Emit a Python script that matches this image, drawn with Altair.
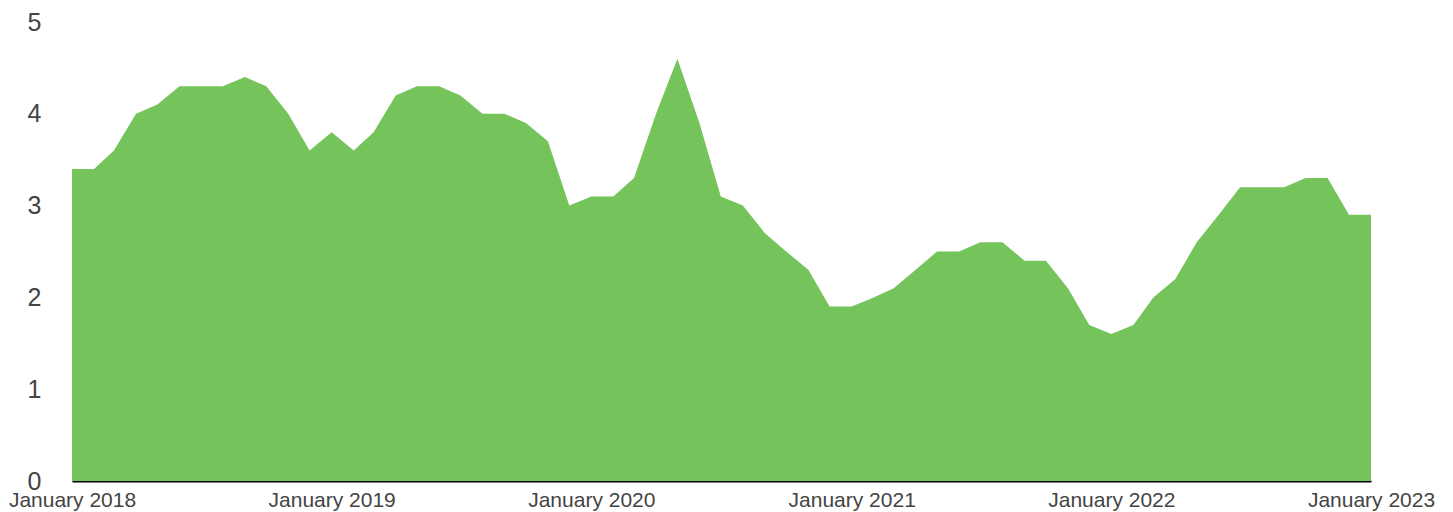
import altair as alt
import pandas as pd

start_year = 2018
start_month = 1
values = [
    3.4, 3.4, 3.6, 4.0, 4.1, 4.3, 4.3, 4.3, 4.4, 4.3, 4.0, 3.6,
    3.8, 3.6, 3.8, 4.2, 4.3, 4.3, 4.2, 4.0, 4.0, 3.9, 3.7, 3.0,
    3.1, 3.1, 3.3, 4.0, 4.6, 3.9, 3.1, 3.0, 2.7, 2.5, 2.3, 1.9,
    1.9, 2.0, 2.1, 2.3, 2.5, 2.5, 2.6, 2.6, 2.4, 2.4, 2.1, 1.7,
    1.6, 1.7, 2.0, 2.2, 2.6, 2.9, 3.2, 3.2, 3.2, 3.3, 3.3, 2.9,
    2.9,
]
tick_years = [2018, 2019, 2020, 2021, 2022, 2023]
y_ticks = [0, 1, 2, 3, 4, 5]

dates = []
for i in range(len(values)):
    m = start_month - 1 + i
    dates.append(f"{start_year + m // 12:04d}-{m % 12 + 1:02d}-01T00:00:00Z")

df = pd.DataFrame({"date": dates, "value": values})

font = "Liberation Sans"

chart = (
    alt.Chart(df)
    .mark_area(color="#75C35B", opacity=1, interpolate="linear")
    .encode(
        x=alt.X(
            "date:T",
            scale=alt.Scale(
                type="utc",
                domain=[
                    alt.DateTime(year=tick_years[0], month=1, date=1, utc=True),
                    alt.DateTime(year=tick_years[-1], month=1, date=1, utc=True),
                ],
                nice=False,
            ),
            axis=alt.Axis(
                title=None,
                values=[alt.DateTime(year=y, month=1, date=1, utc=True) for y in tick_years],
                labelExpr="utcFormat(datum.value, '%B %Y')",
                grid=False,
                ticks=False,
                domain=True,
                domainColor="#000000",
                domainWidth=2,
                labelFont=font,
                labelFontSize=21,
                labelColor="#444444",
                labelPadding=8,
                labelOverlap=False,
                labelFlush=False,
                labelAlign="center",
            ),
        ),
        y=alt.Y(
            "value:Q",
            scale=alt.Scale(domain=[0, 5], nice=False, zero=True),
            axis=alt.Axis(
                title=None,
                values=y_ticks,
                grid=False,
                ticks=False,
                domain=False,
                labelFont=font,
                labelFontSize=25,
                labelColor="#444444",
                labelPadding=31,
                labelBaseline="middle",
            ),
        ),
    )
    .properties(
        width=1299,
        height=459,
        autosize=alt.AutoSizeParams(type="none"),
        padding={"left": 64, "top": 14, "right": 70, "bottom": 30},
    )
    .configure_view(stroke=None)
)

chart.save("out.html", embed_options={"renderer": "svg", "actions": False})
